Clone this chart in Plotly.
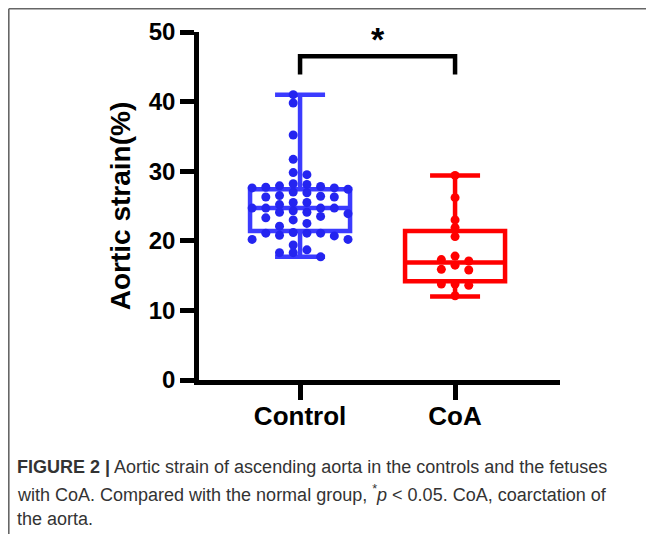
import plotly.graph_objects as go

# ---------------- data ----------------
categories = ["Control", "CoA"]

control_values = [41.0, 39.8, 35.2, 31.7, 29.8, 29.5, 28.2, 28.1, 27.9, 27.8,
                  27.7, 27.6, 27.6, 27.4, 27.0, 26.9, 26.5, 26.4, 26.3, 26.3,
                  25.5, 25.5, 25.2, 24.7, 24.7, 24.7, 24.7, 24.3, 24.1, 24.1,
                  23.9, 23.5, 23.3, 23.0, 22.5, 22.1, 21.2, 21.1, 21.1, 21.1,
                  20.8, 20.7, 20.2, 20.2, 19.4, 18.7, 18.3, 18.3, 17.7]
coa_values = [29.4, 26.2, 23.0, 21.9, 20.6, 17.8, 17.3, 17.1, 16.5, 15.9,
              15.8, 13.8, 13.8, 13.6, 12.1]

# box statistics as drawn (min, q1, median, q3, max)
box_min = [17.7, 12.0]
box_q1 = [21.4, 14.2]
box_median = [24.7, 16.9]
box_q3 = [27.4, 21.4]
box_max = [41.0, 29.4]

y_ticks = [0, 10, 20, 30, 40, 50]
y_title = "Aortic strain(%)"
sig_label = "*"

# ---------------- layout constants ----------------
OFF = 8                      # page body margin in the browser window
W, H = 654 - OFF, 534 - OFF
L, R, T, B = 191, 94, 24, 154
PW, PH = W - L - R, H - T - B
X_RANGE = [-0.652, 1.677]
Y_RANGE = [0, 50]
px_per_x = PW / (X_RANGE[1] - X_RANGE[0])
px_per_y = PH / (Y_RANGE[1] - Y_RANGE[0])

COLORS = ["#3b3bff", "#ff0000"]
POINT_COLORS = ["#2424f0", "#ff0000"]
MARKER_PX = 9
STEP_PX = 13.7
MIN_SEP_PX = 7.0
HALF_GRID = [True, False]
BOX_WIDTH_PX = 100
LINE_W = 4.5
FONT = "Liberation Sans, Arial, sans-serif"


def swarm(values, half):
    slots = []
    for k in range(30):
        if half:
            slots += [-(k + 0.5), k + 0.5]
        else:
            slots += [0] if k == 0 else [-k, k]
    placed = []
    res = [0.0] * len(values)
    order = sorted(range(len(values)), key=lambda i: -values[i])
    for i in order:
        v = values[i]
        for s in slots:
            if all(abs(v - pv) * px_per_y >= MIN_SEP_PX for pv, ps in placed if ps == s):
                placed.append((v, s))
                res[i] = s
                break
    return res


def px_to_paper_x(px):
    # px in window coordinates
    return (px - OFF - L) / PW


def px_to_paper_y(py):
    return (H - B - (py - OFF)) / PH


fig = go.Figure()
groups = [control_values, coa_values]

for gi, vals in enumerate(groups):
    fig.add_trace(go.Box(
        x=[gi], q1=[box_q1[gi]], median=[box_median[gi]], q3=[box_q3[gi]],
        lowerfence=[box_min[gi]], upperfence=[box_max[gi]],
        width=BOX_WIDTH_PX / px_per_x, whiskerwidth=0.5,
        line=dict(color=COLORS[gi], width=LINE_W),
        fillcolor="rgba(0,0,0,0)", boxpoints=False, showlegend=False,
        hoverinfo="skip",
    ))

for gi, vals in enumerate(groups):
    slots = swarm(vals, HALF_GRID[gi])
    xs = [gi + s * STEP_PX / px_per_x for s in slots]
    fig.add_trace(go.Scatter(
        x=xs, y=vals, mode="markers", showlegend=False,
        marker=dict(size=MARKER_PX, color=POINT_COLORS[gi], line=dict(width=0)),
    ))

# significance bracket
br_low, br_high = 43.9, 46.5
fig.add_shape(type="path",
              path=f"M 0,{br_low} L 0,{br_high} L 1,{br_high} L 1,{br_low}",
              xref="x", yref="y", line=dict(color="black", width=LINE_W))
fig.add_annotation(x=0.5, y=49.0, xref="x", yref="y", text=f"<b>{sig_label}</b>",
                   showarrow=False, font=dict(family=FONT, size=34, color="black"),
                   xanchor="center", yanchor="middle")

# caption
cap_color = "#333333"
cap_lines = [
    "<b>FIGURE 2 |</b> Aortic strain of ascending aorta in the controls and the fetuses",
    "with CoA. Compared with the normal group, <sup>*</sup><i>p</i> &lt; 0.05. CoA, coarctation of",
    "the aorta.",
]
cap_y = [467, 493, 519]
for txt, cy in zip(cap_lines, cap_y):
    fig.add_annotation(x=px_to_paper_x(15), y=px_to_paper_y(cy), xref="paper", yref="paper",
                       text=txt, showarrow=False, xanchor="left", yanchor="middle",
                       align="left", font=dict(family=FONT, size=18, color=cap_color))

# frame lines
fig.add_shape(type="line", xref="paper", yref="paper",
              x0=px_to_paper_x(8.8), x1=px_to_paper_x(660),
              y0=px_to_paper_y(8.8), y1=px_to_paper_y(8.8),
              line=dict(color="#666666", width=1.6))
fig.add_shape(type="line", xref="paper", yref="paper",
              x0=px_to_paper_x(8.8), x1=px_to_paper_x(8.8),
              y0=px_to_paper_y(8.8), y1=px_to_paper_y(540),
              line=dict(color="#666666", width=1.6))

fig.update_layout(
    width=W, height=H,
    margin=dict(l=L, r=R, t=T, b=B, autoexpand=False),
    paper_bgcolor="white", plot_bgcolor="white",
    showlegend=False,
    xaxis=dict(range=X_RANGE, tickvals=[0, 1], ticktext=categories,
               showgrid=False, zeroline=False, showline=True,
               linecolor="black", linewidth=LINE_W,
               ticks="outside", ticklen=15, tickwidth=LINE_W, tickcolor="black",
               ticklabelstandoff=-6,
               tickfont=dict(family=FONT, size=26, color="black", weight="bold")),
    yaxis=dict(range=Y_RANGE, tickvals=y_ticks,
               showgrid=False, zeroline=False, showline=True,
               linecolor="black", linewidth=LINE_W,
               ticks="outside", ticklen=14, tickwidth=LINE_W, tickcolor="black",
               tickfont=dict(family=FONT, size=24, color="black", weight="bold"),
               title=dict(text=y_title, standoff=11,
                          font=dict(family=FONT, size=28, color="black", weight="bold"))),
)

fig.write_html("out.html")
